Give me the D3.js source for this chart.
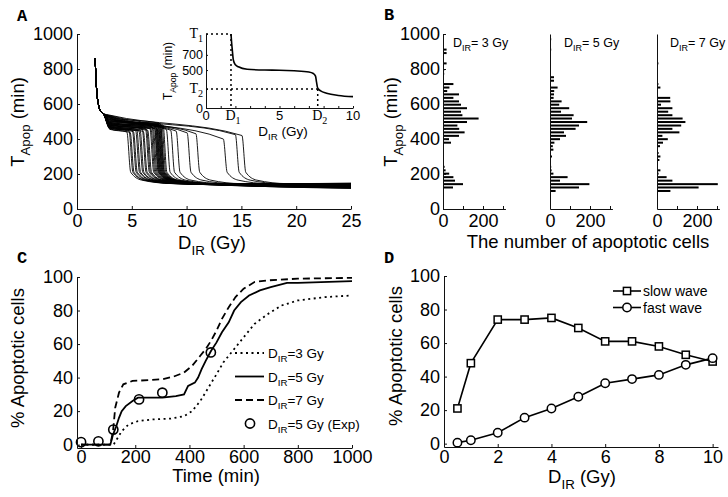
<!DOCTYPE html>
<html>
<head>
<meta charset="utf-8">
<script src="https://cdn.jsdelivr.net/npm/d3@7"></script>
<style>
  body { margin: 0; background: #fff; }
  svg { font-family: "Liberation Sans", Arial, sans-serif; }
</style>
</head>
<body>
<script>
// ---------- data ----------

// A: dose at which each simulated cell switches from slow to fast apoptosis
var switchDose = [4.7, 4.9, 5.0, 5.2, 5.3, 5.5, 5.6, 5.8, 5.9, 6.1, 6.2, 6.4, 6.5, 6.6, 6.8, 6.9,
                  7.0, 7.1, 7.2, 7.25, 7.3, 7.35, 7.4, 7.45, 7.5, 7.55, 7.6, 7.65, 7.7, 7.75, 7.8, 7.9, 8.0,
                  8.3, 8.7, 9.2, 10.2, 11.0, 13.5, 14.6, 15.2];
// T_Apop at 3 Gy, just before the switch, and at 25 Gy
var plateau3 = [458, 462, 455, 470, 465, 460, 472, 468, 475, 480, 466, 478, 485, 470, 490, 482,
                495, 488, 500, 476, 505, 492, 510, 486, 515, 498, 520, 480, 508, 525, 494, 512, 502,
                518, 522, 526, 528, 530, 532, 534, 536];
var plateauEnd = [440, 445, 438, 450, 442, 448, 455, 446, 452, 458, 444, 460, 455, 450, 462, 458,
                  470, 465, 475, 460, 480, 468, 485, 462, 478, 490, 466, 482, 472, 488, 470, 476, 480,
                  455, 450, 445, 435, 430, 400, 425, 420];
var floorT = [128, 132, 125, 135, 130, 122, 138, 127, 133, 120, 136, 129, 140, 124, 131, 126,
              134, 121, 137, 128, 142, 118, 130, 135, 125, 139, 123, 132, 127, 144, 120, 136, 129,
              138, 141, 135, 140, 143, 145, 146, 148];
// shared spike near the threshold dose
var headDose = [1.66, 1.72, 1.82, 1.95, 2.15, 2.4];
var headT = [860, 760, 660, 600, 560, 545];
// shape after the switch (dose offset, T_Apop)
var dropOffset = [0.2, 1.2, 4];
var dropT = [210, 165, 145];

// A inset: a single cell
var insetDose = [1.7, 1.74, 1.79, 1.86, 2.0, 2.2, 2.8, 4, 5, 6, 7, 7.3, 7.45, 7.52, 7.58, 7.65, 7.8, 8.2, 9, 10];
var insetT = [975, 870, 763, 632, 570, 543, 510, 500, 498, 490, 475, 455, 420, 340, 275, 250, 225, 195, 165, 150];
var D1 = 1.7, D2 = 7.6, T1 = 975, T2 = 250;

// B: histograms of T_Apop (bin centres, min)
var bins = [103, 123, 142, 162, 182, 202, 221, 241, 261, 280, 300, 320, 339, 359, 379, 399, 418, 438, 458, 477,
            497, 517, 536, 556, 576, 596, 615, 635, 655, 674, 694, 714, 733, 753, 773, 793, 812, 832, 852, 871,
            891, 911, 930, 950, 970, 990];
var hist3 = [0, 50, 100, 60, 52, 31, 13, 8, 0, 0, 0, 0, 0, 0, 40, 30, 80, 108, 81, 72,
             120, 178, 97, 90, 120, 90, 80, 52, 80, 21, 32, 52, 0, 0, 6, 6, 0, 18, 0, 0,
             18, 18, 0, 0, 0, 0];
var hist5 = [28, 145, 197, 50, 88, 17, 8, 6, 0, 0, 10, 0, 17, 14, 22, 50, 80, 70, 128, 145,
             186, 110, 118, 55, 96, 46, 58, 18, 20, 21, 38, 0, 20, 20, 0, 0, 0, 0, 0, 0,
             0, 6, 0, 0, 6, 0];
var hist7 = [67, 208, 304, 77, 48, 8, 17, 0, 0, 12, 17, 8, 0, 15, 30, 54, 27, 112, 77, 121,
             142, 128, 77, 56, 77, 20, 67, 66, 0, 0, 17, 7, 0, 0, 0, 0, 0, 7, 0, 0,
             0, 0, 0, 0, 0, 0];
var histDoses = ["3", "5", "7"];

// C: cumulative % apoptotic cells over time
var time3 = [0, 120, 135, 150, 175, 210, 260, 330, 380, 410, 440, 470, 500, 525, 560, 600, 640, 690, 740, 800, 900, 1000];
var pct3 = [0, 0, 4, 8, 12, 14, 15, 15.5, 17, 20, 26, 34, 42, 49, 56, 64, 72, 78, 83, 86, 88, 89];
var time5 = [0, 108, 118, 130, 140, 150, 165, 190, 210, 250, 300, 350, 380, 395, 420, 432, 445, 460, 480, 500,
             520, 545, 565, 590, 620, 660, 700, 760, 800, 1000];
var pct5 = [0, 0, 6, 11, 16, 20, 23, 26, 28, 28, 28, 29, 30, 35, 37, 40, 45, 50, 56, 61,
            67, 73, 80, 85, 89, 92, 94, 96.5, 96.5, 97.5];
var time7 = [0, 108, 118, 126, 140, 156, 190, 250, 300, 340, 380, 410, 440, 460, 480, 500, 520, 545, 570, 600, 640, 690, 800, 1000];
var pct7 = [0, 0, 8, 22, 31, 36, 38, 38.5, 39, 40.5, 43, 47, 53, 57, 62, 68, 75, 82, 88, 93, 97, 98, 99, 99.5];
var timeExp = [0, 64, 119, 214, 300, 479];
var pctExp = [1.5, 2, 9, 27, 31, 55];

// D: slow and fast wave vs dose
var doseD = [0.5, 1, 2, 3, 4, 5, 6, 7, 8, 9, 10];
var slowWave = [21, 48, 74, 74, 75, 69, 61, 61, 58, 53, 49];
var fastWave = [0.6, 2, 6.5, 15.5, 21, 28, 36, 38.5, 41, 47, 51];

// ---------- drawing ----------
var FS = 18;      // tick labels
var LS = 18.5;    // axis titles
var fmt = d3.format("d");
var svg = d3.select("body").append("svg")
    .attr("width", 728)
    .attr("height", 497);

// text with optional subscript parts: [["D"], ["IR", true], [" (Gy)"]]
function richText(parent, x, y, parts, size, anchor, rotate, family) {
    var t = parent.append("text")
        .attr("x", x)
        .attr("y", y)
        .attr("font-size", size)
        .attr("text-anchor", anchor || "start");
    if (rotate) t.attr("transform", "rotate(-90," + x + "," + y + ")");
    if (family) t.attr("font-family", family);
    var shift = 0;
    parts.forEach(function(p) {
        var s = t.append("tspan").text(p[0]);
        var target = p[1] ? size * 0.3 : 0;
        if (p[1]) s.attr("font-size", size * 0.72);
        s.attr("dy", target - shift);
        shift = target;
    });
    return t;
}

function styleAxis(g, size) {
    g.attr("font-family", null).attr("font-size", size);
    g.selectAll("path, line").attr("stroke", "#111");
    g.selectAll("text").attr("fill", "#000");
}

function panelLetter(x, y, s) {
    svg.append("text")
        .attr("x", x)
        .attr("y", y)
        .attr("font-family", "Liberation Mono, Courier New, monospace")
        .attr("font-weight", "bold")
        .attr("font-size", 17)
        .text(s);
}

// ===== Panel A =====
var xA = d3.scaleLinear().domain([0, 25]).range([77, 351]);
var yA = d3.scaleLinear().domain([0, 1000]).range([209, 34]);

var lineA = d3.line()
    .x(function(d) { return xA(d[0]); })
    .y(function(d) { return yA(d[1]); })
    .curve(d3.curveMonotoneX);

var gA = svg.append("g");
switchDose.forEach(function(s, i) {
    var pts = headDose.map(function(d, j) { return [d, headT[j]]; });
    pts.push([3, plateau3[i]]);
    pts.push([s - 0.15, plateauEnd[i]]);
    dropOffset.forEach(function(o, j) { pts.push([s + o, dropT[j]]); });
    pts.push([25, floorT[i]]);
    gA.append("path")
        .attr("d", lineA(pts))
        .attr("fill", "none")
        .attr("stroke", "#000")
        .attr("stroke-width", 0.9);
});

var axA = svg.append("g")
    .attr("transform", "translate(0,209)")
    .call(d3.axisBottom(xA).tickValues([0, 5, 10, 15, 20, 25]).tickSize(-3).tickSizeOuter(0).tickPadding(5));
styleAxis(axA, FS);
var ayA = svg.append("g")
    .attr("transform", "translate(77,0)")
    .call(d3.axisLeft(yA).tickValues([0, 200, 400, 600, 800, 1000]).tickFormat(fmt).tickSize(-3).tickSizeOuter(0).tickPadding(4));
styleAxis(ayA, FS);

richText(svg, 212, 249, [["D"], ["IR", true], [" (Gy)"]], LS, "middle");
richText(svg, 24, 122, [["T"], ["Apop", true], [" (min)"]], LS, "middle", true);
panelLetter(17, 21, "A");

// inset
var xI = d3.scaleLinear().domain([0, 10]).range([206, 353]);
var yI = d3.scaleLinear().domain([0, T1]).range([108, 34]);
var gI = svg.append("g");

var dotted = "2,3";
[[[0, T1], [D1, T1]], [[D1, T1], [D1, 0]], [[0, T2], [D2, T2]], [[D2, T2], [D2, 0]]].forEach(function(seg) {
    gI.append("line")
        .attr("x1", xI(seg[0][0])).attr("y1", yI(seg[0][1]))
        .attr("x2", xI(seg[1][0])).attr("y2", yI(seg[1][1]))
        .attr("stroke", "#000")
        .attr("stroke-width", 1.5)
        .attr("stroke-dasharray", dotted);
});

gI.append("path")
    .attr("d", d3.line()
        .x(function(d) { return xI(d); })
        .y(function(d, i) { return yI(insetT[i]); })
        .curve(d3.curveMonotoneX)(insetDose))
    .attr("fill", "none")
    .attr("stroke", "#000")
    .attr("stroke-width", 1.6);

var axI = gI.append("g")
    .attr("transform", "translate(0,108)")
    .call(d3.axisBottom(xI).tickValues(d3.range(0, 11)).tickSize(-2).tickSizeOuter(0).tickFormat(""));
styleAxis(axI, 13);
var ayI = gI.append("g")
    .attr("transform", "translate(206,0)")
    .call(d3.axisLeft(yI).tickValues([0, T2, 500, 700, T1]).tickSize(-2).tickSizeOuter(0).tickFormat(""));
styleAxis(ayI, 13);

// inset tick labels (mix of numbers and symbols)
[[0, "0"], [5, "5"], [10, "10"]].forEach(function(t) {
    gI.append("text").attr("x", xI(t[0])).attr("y", 120).attr("font-size", 13)
        .attr("text-anchor", "middle").text(t[1]);
});
[[D1, "D", "1"], [D2, "D", "2"]].forEach(function(t) {
    richText(gI, xI(t[0]) + 2, 120, [[t[1]], [t[2], true]], 14, "middle", false, "Liberation Serif, Times New Roman, serif");
});
[[0, "0"], [500, "500"], [700, "700"]].forEach(function(t) {
    gI.append("text").attr("x", 203).attr("y", yI(t[0]) + 4.5).attr("font-size", 12.5)
        .attr("text-anchor", "end").text(t[1]);
});
[[T1, "T", "1"], [T2, "T", "2"]].forEach(function(t) {
    richText(gI, 203, yI(t[0]) + 4, [[t[1]], [t[2], true]], 14, "end", false, "Liberation Serif, Times New Roman, serif");
});
richText(gI, 283, 136, [["D"], ["IR", true], [" (Gy)"]], 13.5, "middle");
richText(gI, 172, 71, [["T"], ["Apop", true], [" (min)"]], 12, "middle", true);

// ===== Panel B =====
var yB = d3.scaleLinear().domain([0, 1000]).range([209, 34]);
var binH = (yB(0) - yB(19.7)) * 0.58;
var histLeft = [443, 550, 657];
var labelLeft = [453, 564, 670];

[hist3, hist5, hist7].forEach(function(counts, k) {
    var x0 = histLeft[k];
    var xB = d3.scaleLinear().domain([0, 312]).range([x0, x0 + 62.4]);
    var g = svg.append("g");
    g.selectAll("rect")
        .data(counts)
        .enter().append("rect")
        .attr("x", x0)
        .attr("y", function(d, i) { return yB(bins[i]) - binH / 2; })
        .attr("width", function(d) { return xB(d) - x0; })
        .attr("height", binH)
        .attr("fill", "#000");

    var ax = g.append("g")
        .attr("transform", "translate(0,209)")
        .call(d3.axisBottom(xB).tickValues([0, 100, 200, 300]).tickSize(-3).tickSizeOuter(0).tickPadding(5)
            .tickFormat(function(d) { return d === 0 || d === 200 ? d : ""; }));
    styleAxis(ax, FS);
    var ay = g.append("g")
        .attr("transform", "translate(" + x0 + ",0)");
    if (k === 0) {
        ay.call(d3.axisLeft(yB).tickValues([0, 200, 400, 600, 800, 1000]).tickFormat(fmt).tickSize(-3).tickSizeOuter(0).tickPadding(3));
    } else {
        ay.call(d3.axisLeft(yB).tickValues([]).tickSizeOuter(0));
    }
    styleAxis(ay, FS);

    richText(svg, labelLeft[k], 47, [["D"], ["IR", true], ["= " + histDoses[k] + " Gy"]], 12.5, "start");
});

svg.append("text").attr("x", 588).attr("y", 248).attr("font-size", LS)
    .attr("text-anchor", "middle").text("The number of apoptotic cells");
richText(svg, 397, 122, [["T"], ["Apop", true], [" (min)"]], LS, "middle", true);
panelLetter(384, 20, "B");

// ===== Panel C =====
var xC = d3.scaleLinear().domain([-15, 1000]).range([77, 352]);
var yC = d3.scaleLinear().domain([-2, 100]).range([448, 277]);
var lineC = d3.line()
    .x(function(d) { return xC(d[0]); })
    .y(function(d) { return yC(d[1]); });

var seriesC = [
    { t: time3, p: pct3, dash: "2,3.5", w: 1.8 },
    { t: time5, p: pct5, dash: null, w: 1.8 },
    { t: time7, p: pct7, dash: "7,4", w: 1.8 }
];
var gC = svg.append("g");
seriesC.forEach(function(s) {
    gC.append("path")
        .attr("d", lineC(s.t.map(function(d, i) { return [d, s.p[i]]; })))
        .attr("fill", "none")
        .attr("stroke", "#000")
        .attr("stroke-width", s.w)
        .attr("stroke-dasharray", s.dash);
});
gC.selectAll("circle.exp")
    .data(timeExp)
    .enter().append("circle")
    .attr("class", "exp")
    .attr("cx", function(d) { return xC(d); })
    .attr("cy", function(d, i) { return yC(pctExp[i]); })
    .attr("r", 4.6)
    .attr("fill", "none")
    .attr("stroke", "#000")
    .attr("stroke-width", 1.6);

var axC = svg.append("g")
    .attr("transform", "translate(0,448)")
    .call(d3.axisBottom(xC).tickValues([0, 200, 400, 600, 800, 1000]).tickFormat(fmt).tickSize(-3).tickSizeOuter(0).tickPadding(2));
styleAxis(axC, FS);
var ayC = svg.append("g")
    .attr("transform", "translate(77,0)")
    .call(d3.axisLeft(yC).tickValues([0, 20, 40, 60, 80, 100]).tickSize(-3).tickSizeOuter(0).tickPadding(4));
styleAxis(ayC, FS);

svg.append("text").attr("x", 216).attr("y", 482).attr("font-size", LS)
    .attr("text-anchor", "middle").text("Time (min)");
svg.append("text").attr("x", 0).attr("y", 0).attr("font-size", LS)
    .attr("text-anchor", "middle")
    .attr("transform", "translate(24,358) rotate(-90)")
    .text("% Apoptotic cells");
panelLetter(17, 263, "C");

// legend C
var legC = [
    { dash: "2,3.5", label: "=3 Gy" },
    { dash: null, label: "=5 Gy" },
    { dash: "7,4", label: "=7 Gy" },
    { marker: true, label: "=5 Gy (Exp)" }
];
legC.forEach(function(d, i) {
    var y = 353 + i * 23.5;
    if (d.marker) {
        gC.append("circle").attr("cx", 250).attr("cy", y).attr("r", 4.6)
            .attr("fill", "none").attr("stroke", "#000").attr("stroke-width", 1.6);
    } else {
        gC.append("line").attr("x1", 235).attr("x2", 264).attr("y1", y).attr("y2", y)
            .attr("stroke", "#000").attr("stroke-width", 1.8).attr("stroke-dasharray", d.dash);
    }
    richText(gC, 268, y + 5, [["D"], ["IR", true], [d.label]], 13.5, "start");
});

// ===== Panel D =====
var xD = d3.scaleLinear().domain([0, 10.2]).range([444, 718]);
var yD = d3.scaleLinear().domain([-2, 100]).range([447, 276]);
var lineD = d3.line()
    .x(function(d, i) { return xD(doseD[i]); })
    .y(function(d) { return yD(d); });

var gD = svg.append("g");
[slowWave, fastWave].forEach(function(vals) {
    gD.append("path")
        .attr("d", lineD(vals))
        .attr("fill", "none")
        .attr("stroke", "#000")
        .attr("stroke-width", 1.6);
});
gD.selectAll("rect.slow")
    .data(slowWave)
    .enter().append("rect")
    .attr("class", "slow")
    .attr("x", function(d, i) { return xD(doseD[i]) - 3.6; })
    .attr("y", function(d) { return yD(d) - 3.6; })
    .attr("width", 7.2)
    .attr("height", 7.2)
    .attr("fill", "#fff")
    .attr("stroke", "#000")
    .attr("stroke-width", 1.5);
gD.selectAll("circle.fast")
    .data(fastWave)
    .enter().append("circle")
    .attr("class", "fast")
    .attr("cx", function(d, i) { return xD(doseD[i]); })
    .attr("cy", function(d) { return yD(d); })
    .attr("r", 4.2)
    .attr("fill", "#fff")
    .attr("stroke", "#000")
    .attr("stroke-width", 1.5);

var axD = svg.append("g")
    .attr("transform", "translate(0,447)")
    .call(d3.axisBottom(xD).tickValues([0, 2, 4, 6, 8, 10]).tickSize(-3).tickSizeOuter(0).tickPadding(3));
styleAxis(axD, FS);
var ayD = svg.append("g")
    .attr("transform", "translate(444,0)")
    .call(d3.axisLeft(yD).tickValues([0, 20, 40, 60, 80, 100]).tickSize(-3).tickSizeOuter(0).tickPadding(4));
styleAxis(ayD, FS);

richText(svg, 582, 483, [["D"], ["IR", true], [" (Gy)"]], LS, "middle");
svg.append("text").attr("x", 0).attr("y", 0).attr("font-size", LS)
    .attr("text-anchor", "middle")
    .attr("transform", "translate(402,356) rotate(-90)")
    .text("% Apoptotic cells");
panelLetter(384, 263, "D");

// legend D
[["slow wave", "square"], ["fast wave", "circle"]].forEach(function(d, i) {
    var y = 291 + i * 16.5;
    gD.append("line").attr("x1", 613).attr("x2", 641).attr("y1", y).attr("y2", y)
        .attr("stroke", "#000").attr("stroke-width", 1.6);
    if (d[1] === "square") {
        gD.append("rect").attr("x", 627 - 3.6).attr("y", y - 3.6).attr("width", 7.2).attr("height", 7.2)
            .attr("fill", "#fff").attr("stroke", "#000").attr("stroke-width", 1.5);
    } else {
        gD.append("circle").attr("cx", 627).attr("cy", y).attr("r", 4.2)
            .attr("fill", "#fff").attr("stroke", "#000").attr("stroke-width", 1.5);
    }
    gD.append("text").attr("x", 643).attr("y", y + 5).attr("font-size", 14).text(d[0]);
});
</script>
</body>
</html>
